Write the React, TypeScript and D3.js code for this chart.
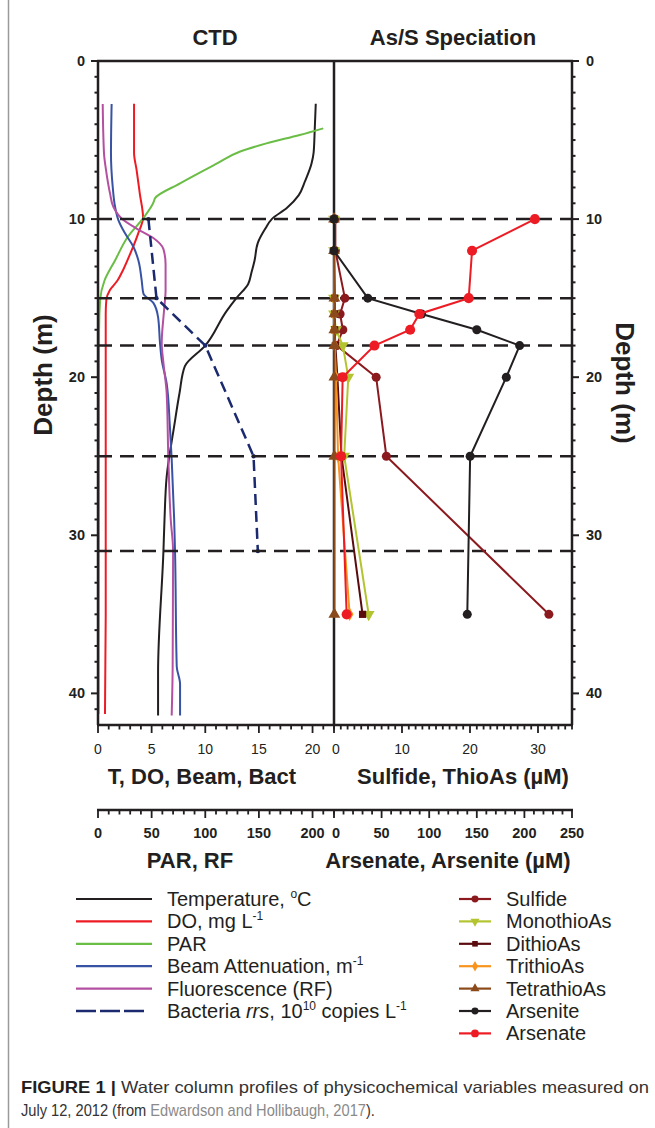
import React from 'react';
import * as d3 from 'd3';

// ---- CTD profiles (left panel) ----
const tempDepth = [2.7, 4.4, 5.8, 6.5, 7.6, 8.5, 9.3, 10, 10.6, 11.5, 12.6, 13.4, 14.1, 15, 15.8, 18, 19.3, 21, 23.1, 26.3, 29, 31, 38.7, 41.4];
const tempVal = [20.3, 20.2, 20.1, 19.9, 19.3, 18.7, 17.6, 16.2, 15.6, 14.9, 14.6, 14.3, 14.0, 12.9, 12.0, 10.0, 8.1, 7.6, 7.1, 6.4, 6.2, 6.1, 5.6, 5.6];

const doDepth = [2.7, 5.8, 6.9, 8.4, 9.9, 10.9, 12.2, 13.2, 13.9, 14.5, 15.1, 16, 25, 35, 41.3];
const doVal = [3.36, 3.36, 3.6, 3.9, 4.2, 3.75, 3.0, 2.35, 1.8, 1.1, 0.78, 0.72, 0.72, 0.72, 0.65];

const parDepth = [4.26, 4.68, 5.21, 5.74, 6.48, 7.74, 8.69, 8.9, 9.96, 11.1, 12.6, 13.9, 15.1, 17, 41.3];
const parVal = [210, 188, 157, 132, 111, 76.5, 53, 52, 42, 28, 16, 6, 2, 1, 0.5];

const beamDepth = [2.72, 5.84, 7.95, 9.22, 10.06, 10.9, 11.75, 12.6, 13.86, 14.7, 15.3, 16.2, 17.85, 18.9, 20.4, 23.1, 25.2, 29, 31, 38.3, 39.4, 41.4];
const beamVal = [1.27, 1.21, 1.37, 1.59, 1.9, 2.52, 3.3, 3.76, 4.07, 4.23, 5.16, 5.6, 5.78, 5.94, 6.4, 6.7, 6.87, 7.1, 7.18, 7.34, 7.65, 7.65];

const rfDepth = [2.72, 5.84, 6.9, 8.37, 9.22, 9.96, 10.6, 11.2, 11.9, 12.85, 14.5, 15.75, 17.85, 19.1, 21, 25.2, 29, 31, 38.3, 41.4];
const rfVal = [4.4, 5.6, 7.5, 11.2, 14.3, 22, 36, 51.6, 61, 63, 63, 61.6, 59.4, 61, 64, 65.6, 67.8, 70, 69.6, 68.7];

const bactDepth = [10, 15, 18, 25, 31];
const bactVal = [4.7, 5.45, 10.0, 14.5, 14.9];

// sampling depths marked with dashed lines
const sampleDepths = [10, 15, 18, 25, 31];

// ---- As/S speciation (right panel) ----
const specDepth = [10, 12, 15, 16, 17, 18, 20, 25, 35];
const sulfide = [0.2, 0.2, 1.6, 0.9, 1.3, 0.4, 6.2, 7.7, 31.6];
const monothio = [0, 0, 0, 0, 0.3, 1.3, 2.1, 1.5, 5.1];
const dithio = [0, 0, 0.1, 0.1, 0.1, 0.2, 0.5, 1.1, 4.2];
const trithio = [0, 0, 0, 0, 0, 0.1, 0.3, 0.6, 2.3];
const tetrathio = [0, 0, 0.05, 0.05, 0.05, 0.05, 0.05, 0.05, 0.05];
const arsenite = [0, 0, 35.5, 92, 150, 195, 181, 143, 140];
const arsenate = [211, 145, 141.5, 89.6, 80, 42.5, 9.1, 7.4, 13.3];

const leftTicks = [0, 5, 10, 15, 20];
const sulfTicks = [0, 10, 20, 30];
const parTicks = [0, 50, 100, 150, 200];
const asTicks = [0, 50, 100, 150, 200, 250];
const depthTicks = [0, 10, 20, 30, 40];

const FONT = 'Liberation Sans, Arial, Helvetica, sans-serif';
const INK = '#231f20';

const y = d3.scaleLinear().domain([0, 42]).range([61, 725]);
const xL = d3.scaleLinear().domain([0, 22]).range([98, 334]);
const xPar = d3.scaleLinear().domain([0, 220]).range([98, 334]);
const xS = d3.scaleLinear().domain([0, 35]).range([334, 572]);
const xAs = d3.scaleLinear().domain([0, 250]).range([334, 572]);

const smooth = (sx: any, depths: number[], vals: number[]) =>
  d3.line().curve(d3.curveMonotoneY)(depths.map((d, i) => [sx(vals[i]), y(d)]) as any) || '';
const straight = (sx: any, depths: number[], vals: number[]) =>
  d3.line()(depths.map((d, i) => [sx(vals[i]), y(d)]) as any) || '';

const ctd = [
  { name: 'temp', color: INK, sx: xL, d: tempDepth, v: tempVal },
  { name: 'do', color: '#ed1c24', sx: xL, d: doDepth, v: doVal },
  { name: 'par', color: '#6abd45', sx: xPar, d: parDepth, v: parVal },
  { name: 'beam', color: '#3953a4', sx: xL, d: beamDepth, v: beamVal },
  { name: 'rf', color: '#b350a2', sx: xPar, d: rfDepth, v: rfVal },
];

const species = [
  { name: 'Sulfide', color: '#8b1a1f', sx: xS, v: sulfide, sym: d3.symbolCircle, size: 64, rot: 0 },
  { name: 'MonothioAs', color: '#b3c430', sx: xS, v: monothio, sym: d3.symbolTriangle, size: 60, rot: 180 },
  { name: 'DithioAs', color: '#5a0b0e', sx: xS, v: dithio, sym: d3.symbolSquare, size: 52, rot: 0 },
  { name: 'TrithioAs', color: '#f7941d', sx: xS, v: trithio, sym: d3.symbolDiamond, size: 52, rot: 0 },
  { name: 'TetrathioAs', color: '#8b4a1c', sx: xS, v: tetrathio, sym: d3.symbolTriangle, size: 60, rot: 0 },
  { name: 'Arsenite', color: INK, sx: xAs, v: arsenite, sym: d3.symbolCircle, size: 64, rot: 0 },
  { name: 'Arsenate', color: '#ed1c24', sx: xAs, v: arsenate, sym: d3.symbolCircle, size: 80, rot: 0 },
];

const App = () => {
  const yMinor = d3.range(0, 42);
  const botY = 725;
  const bot2Y = 810;
  const rowY = (i: number) => 899 + i * 22.4;

  return (
    <div style={{ position: 'absolute', left: 0, top: 0 }}>
      <svg width={655} height={1128} style={{ display: 'block', background: '#fff' }} fontFamily={FONT}>
        {/* frame line */}
        <line x1={8.5} x2={8.5} y1={0} y2={1128} stroke="#9a9a9a" strokeWidth={1.5} />

        {/* titles */}
        <text x={215} y={45} textAnchor="middle" fontSize={22} fontWeight="bold" fill={INK}>CTD</text>
        <text x={453} y={45} textAnchor="middle" fontSize={22} fontWeight="bold" fill={INK}>As/S Speciation</text>

        {/* depth ticks left and right */}
        {yMinor.map((d) => {
          const major = d % 10 === 0;
          return (
            <g key={'yt' + d}>
              <line x1={major ? 91 : 94.5} x2={98} y1={y(d)} y2={y(d)} stroke={INK} strokeWidth={2} />
              <line x1={572} x2={major ? 579 : 575.5} y1={y(d)} y2={y(d)} stroke={INK} strokeWidth={2} />
            </g>
          );
        })}
        {depthTicks.map((d) => (
          <g key={'yl' + d} fontSize={14.5} fontWeight="bold" fill={INK}>
            <text x={85} y={y(d) + 5} textAnchor="end">{d}</text>
            <text x={586} y={y(d) + 5}>{d}</text>
          </g>
        ))}
        <text transform={`translate(43,${375}) rotate(-90)`} textAnchor="middle" dominantBaseline="central" fontSize={26} fontWeight="bold" fill={INK}>Depth (m)</text>
        <text transform={`translate(625,${383}) rotate(90)`} textAnchor="middle" dominantBaseline="central" fontSize={26} fontWeight="bold" fill={INK}>Depth (m)</text>

        {/* CTD curves */}
        {ctd.map((s) => (
          <path key={s.name} d={smooth(s.sx, s.d, s.v)} fill="none" stroke={s.color} strokeWidth={2} />
        ))}
        <path d={straight(xL, bactDepth, bactVal)} fill="none" stroke="#1b2a6e" strokeWidth={2.5} strokeDasharray="11,6" />
        {bactDepth.map((d, i) => (
          <circle key={'b' + d} cx={xL(bactVal[i])} cy={y(d)} r={2.2} fill="#1b2a6e" />
        ))}

        {/* sampling depth lines */}
        {sampleDepths.map((d) => (
          <line key={'sd' + d} x1={98} x2={572} y1={y(d)} y2={y(d)} stroke={INK} strokeWidth={2.5} strokeDasharray="14,8" />
        ))}

        {/* frame axes */}
        <line x1={97} x2={573} y1={61} y2={61} stroke={INK} strokeWidth={2.5} />
        <line x1={98} x2={98} y1={61} y2={botY} stroke={INK} strokeWidth={2.5} />
        <line x1={572} x2={572} y1={61} y2={botY} stroke={INK} strokeWidth={2.5} />
        <line x1={334} x2={334} y1={61} y2={botY} stroke={INK} strokeWidth={2.5} />

        {/* speciation series */}
        {species.map((s) => (
          <g key={s.name}>
            <path d={straight(s.sx, specDepth, s.v)} fill="none" stroke={s.color} strokeWidth={2} />
            {specDepth.map((d, i) => (
              <path
                key={s.name + d}
                d={d3.symbol().type(s.sym).size(s.size)() || ''}
                transform={`translate(${s.sx(s.v[i])},${y(d)}) rotate(${s.rot})`}
                fill={s.color}
              />
            ))}
          </g>
        ))}

        {/* bottom axis 1 */}
        <line x1={97} x2={573} y1={botY} y2={botY} stroke={INK} strokeWidth={2.5} />
        {d3.range(0, 23).map((v) => (
          <line key={'bl' + v} x1={xL(v)} x2={xL(v)} y1={botY} y2={botY + (v % 5 === 0 ? 8 : 4.5)} stroke={INK} strokeWidth={1.8} />
        ))}
        {d3.range(0, 36).map((v) => (
          <line key={'br' + v} x1={xS(v)} x2={xS(v)} y1={botY} y2={botY + (v % 10 === 0 ? 8 : 4.5)} stroke={INK} strokeWidth={1.8} />
        ))}
        {leftTicks.map((v) => (
          <text key={'lt' + v} x={xL(v)} y={754} textAnchor="middle" fontSize={14} fill={INK}>{v}</text>
        ))}
        {sulfTicks.map((v) => (
          <text key={'st' + v} x={xS(v) + (v === 0 ? 2 : 0)} y={754} textAnchor="middle" fontSize={14} fill={INK}>{v}</text>
        ))}
        <text x={202} y={784} textAnchor="middle" fontSize={22} fontWeight="bold" fill={INK}>T, DO, Beam, Bact</text>
        <text x={463} y={784} textAnchor="middle" fontSize={22} fontWeight="bold" fill={INK}>Sulfide, ThioAs (µM)</text>

        {/* bottom axis 2 */}
        <line x1={97} x2={573} y1={bot2Y} y2={bot2Y} stroke={INK} strokeWidth={2.5} />
        {d3.range(0, 23).map((v) => (
          <line key={'pl' + v} x1={xPar(v * 10)} x2={xPar(v * 10)} y1={bot2Y} y2={bot2Y + (v % 5 === 0 ? 8 : 4.5)} stroke={INK} strokeWidth={1.8} />
        ))}
        {d3.range(0, 26).map((v) => (
          <line key={'al' + v} x1={xAs(v * 10)} x2={xAs(v * 10)} y1={bot2Y} y2={bot2Y + (v % 5 === 0 ? 8 : 4.5)} stroke={INK} strokeWidth={1.8} />
        ))}
        {parTicks.map((v) => (
          <text key={'pt' + v} x={xPar(v)} y={838} textAnchor="middle" fontSize={14.5} fontWeight="bold" fill={INK}>{v}</text>
        ))}
        {asTicks.map((v) => (
          <text key={'at' + v} x={xAs(v) + (v === 0 ? 2 : 0)} y={838} textAnchor="middle" fontSize={14.5} fontWeight="bold" fill={INK}>{v}</text>
        ))}
        <text x={190} y={868} textAnchor="middle" fontSize={22} fontWeight="bold" fill={INK}>PAR, RF</text>
        <text x={448} y={868} textAnchor="middle" fontSize={22} fontWeight="bold" fill={INK}>Arsenate, Arsenite (µM)</text>

        {/* legend, left column */}
        <g fontSize={20} fill={INK}>
          {ctd.map((s, i) => (
            <line key={'lg' + s.name} x1={76} x2={152} y1={rowY(i)} y2={rowY(i)} stroke={s.color} strokeWidth={2.2} />
          ))}
          <line x1={76} x2={146} y1={rowY(5)} y2={rowY(5)} stroke="#1b2a6e" strokeWidth={2.5} strokeDasharray="20,4" />
          <text x={167} y={rowY(0) + 7}>Temperature, <tspan fontSize={12} dy={-8}>o</tspan><tspan dy={8}>C</tspan></text>
          <text x={167} y={rowY(1) + 7}>DO, mg L<tspan fontSize={12} dy={-8}>-1</tspan></text>
          <text x={167} y={rowY(2) + 7}>PAR</text>
          <text x={167} y={rowY(3) + 7}>Beam Attenuation, m<tspan fontSize={12} dy={-8}>-1</tspan></text>
          <text x={167} y={rowY(4) + 7}>Fluorescence (RF)</text>
          <text x={167} y={rowY(5) + 7}>Bacteria <tspan fontStyle="italic">rrs</tspan>, 10<tspan fontSize={12} dy={-8}>10</tspan><tspan dy={8}> copies L</tspan><tspan fontSize={12} dy={-8}>-1</tspan></text>
        </g>

        {/* legend, right column */}
        <g fontSize={20} fill={INK}>
          {species.map((s, i) => (
            <g key={'lr' + s.name}>
              <line x1={459} x2={491} y1={rowY(i)} y2={rowY(i)} stroke={s.color} strokeWidth={2.2} />
              <path d={d3.symbol().type(s.sym).size(s.size * 0.6)() || ''} transform={`translate(475,${rowY(i)}) rotate(${s.rot})`} fill={s.color} />
              <text x={506} y={rowY(i) + 7}>{s.name}</text>
            </g>
          ))}
        </g>

        {/* caption */}
        <text x={21} y={1093} fontSize={16.5} fill="#333" textLength={628} lengthAdjust="spacingAndGlyphs">
          <tspan fontWeight="bold" fill={INK}>FIGURE 1 |</tspan> Water column profiles of physicochemical variables measured on
        </text>
        <text transform="translate(21,1116) scale(0.915,1)" fontSize={16} fill="#333">
          July 12, 2012 (from <tspan fill="#8a8a8a">Edwardson and Hollibaugh, 2017</tspan>).
        </text>
      </svg>
    </div>
  );
};

export default App;
